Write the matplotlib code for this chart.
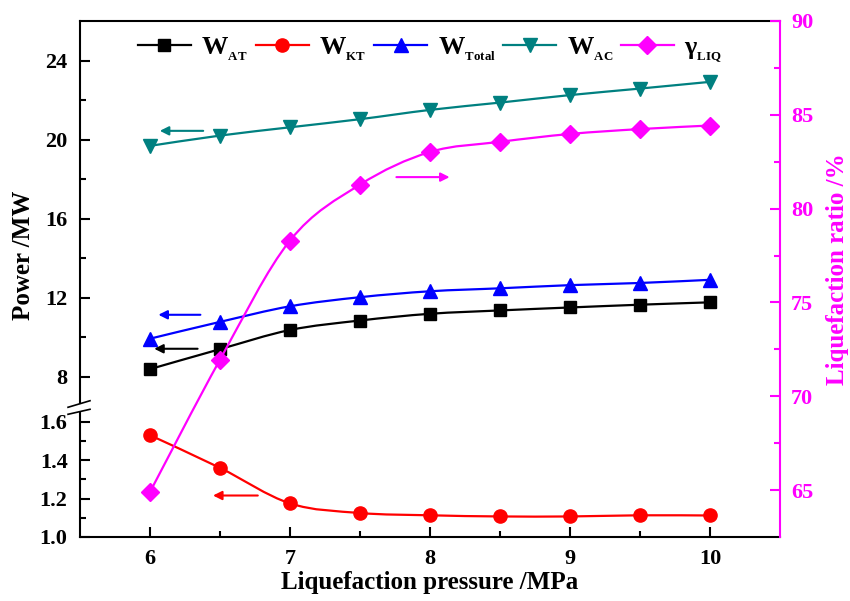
import numpy as np
import matplotlib
matplotlib.use("Agg")
import matplotlib.pyplot as plt
from matplotlib.path import Path
from matplotlib.patches import PathPatch
from matplotlib.lines import Line2D
from matplotlib.ticker import FixedLocator

# ── data ─────────────────────────────────────────────────────────────────────
pressure = [6.0, 6.5, 7.0, 7.5, 8.0, 8.5, 9.0, 9.5, 10.0]
w_at     = [8.38, 9.39, 10.36, 10.84, 11.18, 11.35, 11.50, 11.64, 11.76]
w_kt     = [1.53, 1.36, 1.175, 1.125, 1.113, 1.107, 1.107, 1.113, 1.112]
w_total  = [9.92, 10.77, 11.56, 12.02, 12.32, 12.47, 12.63, 12.74, 12.90]
w_ac     = [19.68, 20.20, 20.62, 21.03, 21.50, 21.87, 22.25, 22.58, 22.92]
gamma    = [64.9, 71.95, 78.3, 81.28, 83.02, 83.56, 83.98, 84.24, 84.43]

left_major = [1.0, 1.2, 1.4, 1.6, 8, 12, 16, 20, 24]
left_minor = [1.1, 1.3, 1.5, 10, 14, 18, 22]
right_major = [65, 70, 75, 80, 85, 90]
right_minor = [67.5, 72.5, 77.5, 82.5, 87.5]

# ── style ────────────────────────────────────────────────────────────────────
plt.rcParams.update({
    "font.family": ["Liberation Serif", "DejaVu Serif"],
    "font.weight": "bold",
    "axes.labelweight": "bold",
    "mathtext.fontset": "custom",
    "mathtext.rm": "Liberation Serif:bold",
    "mathtext.bf": "Liberation Serif:bold",
    "mathtext.it": "Liberation Serif:bold",
})
BLACK, RED, BLUE, TEAL, MAG = "#000000", "#FF0000", "#0000FF", "#008080", "#FF00FF"
LW = 1.6
FS = 16      # tick labels
FS_LAB = 18  # axis titles

fig = plt.figure(figsize=(8.5, 6.01), dpi=100)
ax = fig.add_axes([80/850, 64/601, 700/850, 516/601])

# broken left axis: 1.0-1.7 at full scale, 6.7-26 compressed
BRK_LO, BRK_HI = 1.7, 6.7
T8, SLOPE = 1.835, 0.10286
kv = np.array([-10.0, BRK_LO, BRK_HI, 40.0])
kt = np.array([-10.0, BRK_LO, T8 + (BRK_HI - 8) * SLOPE, T8 + (40 - 8) * SLOPE])

def fwd(v):
    a = np.asarray(v, float)
    return np.interp(a.ravel(), kv, kt).reshape(a.shape)

def inv(t):
    a = np.asarray(t, float)
    return np.interp(a.ravel(), kt, kv).reshape(a.shape)

ax.set_yscale("function", functions=(fwd, inv))
ax.set_xlim(5.5, 10.5)
ax.set_ylim(1.0, 26)

ax2 = ax.twinx()
ax2.set_ylim(62.5, 90)


def smooth_line(axis, x, y, color):
    """Catmull-Rom style bezier through the points."""
    pts = np.column_stack([x, y]).astype(float)
    ext = np.vstack([pts[0], pts, pts[-1]])
    verts = [pts[0]]
    codes = [Path.MOVETO]
    for i in range(len(pts) - 1):
        p0, p1, p2, p3 = ext[i], ext[i + 1], ext[i + 2], ext[i + 3]
        verts += [p1 + (p2 - p0) / 6, p2 - (p3 - p1) / 6, p2]
        codes += [Path.CURVE4] * 3
    axis.add_patch(PathPatch(Path(verts, codes), fill=False,
                             edgecolor=color, lw=LW, zorder=2))


series = [
    (ax,  w_at,    BLACK, "s", 8.0, r"W$_{_{\mathrm{AT}}}$"),
    (ax,  w_kt,    RED,   "o", 9.5, r"W$_{_{\mathrm{KT}}}$"),
    (ax,  w_total, BLUE,  "^", 9.5, r"W$_{_{\mathrm{Total}}}$"),
    (ax,  w_ac,    TEAL,  "v", 9.5, r"W$_{_{\mathrm{AC}}}$"),
    (ax2, gamma,   MAG,   "D", 9.0, r"γ$_{_{\mathrm{LIQ}}}$"),
]
handles = []
for axis, vals, col, mk, ms, lab in series:
    smooth_line(axis, pressure, vals, col)
    axis.plot(pressure, vals, ls="none", marker=mk, ms=ms, color=col, zorder=3)
    handles.append(Line2D([], [], color=col, lw=LW, marker=mk, ms=ms))

# arrows telling which axis each curve belongs to
def arrow(axis, x0, x1, y, col):
    axis.annotate("", xy=(x1, y), xytext=(x0, y),
                  arrowprops=dict(arrowstyle="-|>", color=col, lw=1.5,
                                  mutation_scale=13, shrinkA=0, shrinkB=0))

arrow(ax, 6.38, 6.07, 20.44, TEAL)
arrow(ax, 6.36, 6.06, 11.13, BLUE)
arrow(ax, 6.34, 6.03, 9.41, BLACK)
arrow(ax, 6.77, 6.45, 1.216, RED)
arrow(ax2, 7.76, 8.14, 81.68, MAG)

# ── ticks & spines ───────────────────────────────────────────────────────────
ax.xaxis.set_major_locator(FixedLocator([6, 7, 8, 9, 10]))
ax.xaxis.set_minor_locator(FixedLocator([6.5, 7.5, 8.5, 9.5]))
ax.yaxis.set_major_locator(FixedLocator(left_major))
ax.yaxis.set_minor_locator(FixedLocator(left_minor))
ax.set_yticklabels(["1.0", "1.2", "1.4", "1.6", "8", "12", "16", "20", "24"])
ax.tick_params(axis="both", which="major", direction="in", length=7.5,
               width=1.5, labelsize=FS, top=False, right=False)
ax.tick_params(axis="both", which="minor", direction="in", length=4,
               width=1.5, top=False, right=False)
ax.tick_params(axis="y", pad=9)
ax.tick_params(axis="x", pad=9)

ax2.yaxis.set_major_locator(FixedLocator(right_major))
ax2.yaxis.set_minor_locator(FixedLocator(right_minor))
ax2.tick_params(axis="y", which="major", direction="in", length=7.5, width=1.5,
                labelsize=FS, colors=MAG, pad=8)
ax2.tick_params(axis="y", which="minor", direction="in", length=4, width=1.5,
                colors=MAG)

for s in ("top", "bottom"):
    ax.spines[s].set_linewidth(1.5)
ax.spines["right"].set_visible(False)
ax.spines["left"].set_visible(False)
for s in ("left", "top", "bottom"):
    ax2.spines[s].set_visible(False)
ax2.spines["right"].set_color(MAG)
ax2.spines["right"].set_linewidth(1.5)

# left spine with a gap and break marks
lo_end, hi_start = 0.2397, 0.2603
for y0, y1 in [(0, lo_end), (hi_start, 1)]:
    ax.plot([0, 0], [y0, y1], transform=ax.transAxes, color=BLACK, lw=1.5,
            clip_on=False, zorder=5)
for y0, y1 in [(0.2378, 0.2475), (0.2514, 0.2641)]:
    ax.plot([-0.0171, 0.0143], [y0, y1], transform=ax.transAxes, color=BLACK,
            lw=1.2, clip_on=False, zorder=5)

# ── labels & legend ──────────────────────────────────────────────────────────
ax.set_xlabel("Liquefaction pressure /MPa", fontsize=FS_LAB, labelpad=1)
ax.set_ylabel("Power /MW", fontsize=FS_LAB)
ax.yaxis.set_label_coords(-0.064, 0.546)
ax2.set_ylabel("Liquefaction ratio /%", fontsize=FS_LAB, color=MAG)
ax2.yaxis.set_label_coords(1.066, 0.52)

ax2.legend(handles, [s[5] for s in series], loc="upper left",
           bbox_to_anchor=(0.083, 0.972), ncol=5, frameon=False,
           prop={"size": 19, "weight": "bold"}, handlelength=2.0,
           handletextpad=0.4, columnspacing=0.3, borderaxespad=0, borderpad=0)

fig.savefig("out.png", dpi=100, facecolor="white")
